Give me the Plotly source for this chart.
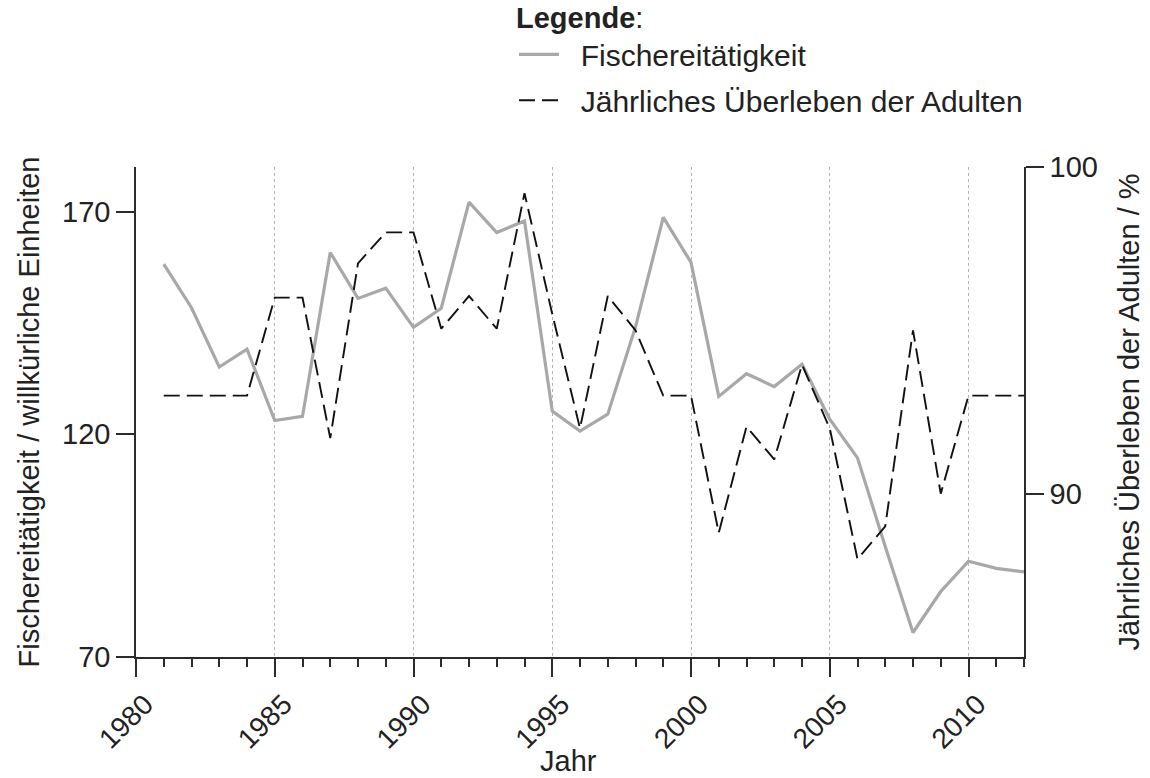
import plotly.graph_objects as go

years = list(range(1981, 2013))
fischerei = [158.2, 148.4, 135.1, 139.1, 123.1, 124.0, 160.8, 150.5, 152.8, 144.0,
             148.3, 172.1, 165.3, 167.9, 125.2, 120.7, 124.5, 144.1, 168.7, 158.6,
             128.5, 133.6, 130.7, 135.7, 123.4, 114.7, 94.8, 75.5, 84.7, 91.5,
             89.9, 89.1]
ueberleben = [93.0, 93.0, 93.0, 93.0, 96.0, 96.0, 91.7, 97.05, 98.0, 98.0,
              95.05, 96.05, 95.05, 99.2, 95.5, 92.0, 96.05, 95.0, 93.0, 93.0,
              88.8, 92.05, 91.05, 93.95, 92.0, 88.0, 89.0, 95.0, 90.0, 93.0,
              93.0, 93.0]

x_range = [1980, 2012]
y1_range = [70, 180]
y2_range = [85, 100]
y1_ticks = [70, 120, 170]
y2_ticks = [90, 100]

FONT = "Liberation Sans, Arial, Helvetica, sans-serif"
AX = "#2b2b2b"

fig = go.Figure()
fig.add_trace(go.Scatter(
    x=years, y=fischerei, mode="lines", name="&nbsp;&nbsp;Fischereitätigkeit",
    line=dict(color="#a8a8a8", width=3.2), legendgroup="a", yaxis="y"))
fig.add_trace(go.Scatter(
    x=years, y=ueberleben, mode="lines", name="&nbsp;&nbsp;Jährliches Überleben der Adulten",
    line=dict(color="#111111", width=1.9, dash="16px,7px"), legendgroup="b", yaxis="y2"))

fig.update_layout(
    width=1150, height=778,
    margin=dict(l=136, r=126, t=167, b=121, autoexpand=False),
    paper_bgcolor="white", plot_bgcolor="white",
    font=dict(family=FONT, size=29, color="#222222"),
    showlegend=True,
    legend=dict(
        title=dict(text="<b>Legende</b>:", font=dict(size=29)),
        x=0.4257, xanchor="left", y=1.36, yanchor="top",
        font=dict(size=30), traceorder="grouped", tracegroupgap=4,
        bgcolor="rgba(0,0,0,0)", itemwidth=40,
    ),
    xaxis=dict(
        range=x_range, tick0=1980, dtick=5, tickangle=-45,
        showline=True, linecolor=AX, linewidth=1.5,
        ticks="outside", ticklen=18, tickwidth=1.5, tickcolor=AX,
        showgrid=True, gridcolor="#b4b4b4", griddash="dot", gridwidth=1.3,
        minor=dict(dtick=1, ticks="outside", ticklen=8, tickwidth=1.5, tickcolor=AX, showgrid=False),
        zeroline=False,
        ticklabelstandoff=0, ticklabelshift=9,
        tickfont=dict(size=28),
    ),
    yaxis=dict(
        range=y1_range, tickvals=y1_ticks,
        showline=True, linecolor=AX, linewidth=1.5,
        ticks="outside", ticklen=18, tickwidth=1.5, tickcolor=AX,
        showgrid=False, zeroline=False,
        title=dict(text="Fischereitätigkeit / willkürliche Einheiten", font=dict(size=29), standoff=14),
        tickfont=dict(size=29),
    ),
    yaxis2=dict(
        range=y2_range, tickvals=y2_ticks, overlaying="y", side="right",
        showline=True, linecolor=AX, linewidth=1.5,
        ticks="outside", ticklen=18, tickwidth=1.5, tickcolor=AX,
        showgrid=False, zeroline=False,
        title=dict(text="Jährliches Überleben der Adulten / %", font=dict(size=29), standoff=22),
        tickfont=dict(size=29),
    ),
    annotations=[dict(text="Jahr", xref="paper", yref="paper", x=0.4865, y=-0.212,
                      xanchor="center", yanchor="middle", showarrow=False,
                      font=dict(size=29))],
)

fig.write_html("out.html", config={"displayModeBar": False},
               post_script="document.body.style.margin='0px';document.body.style.overflow='hidden';")
